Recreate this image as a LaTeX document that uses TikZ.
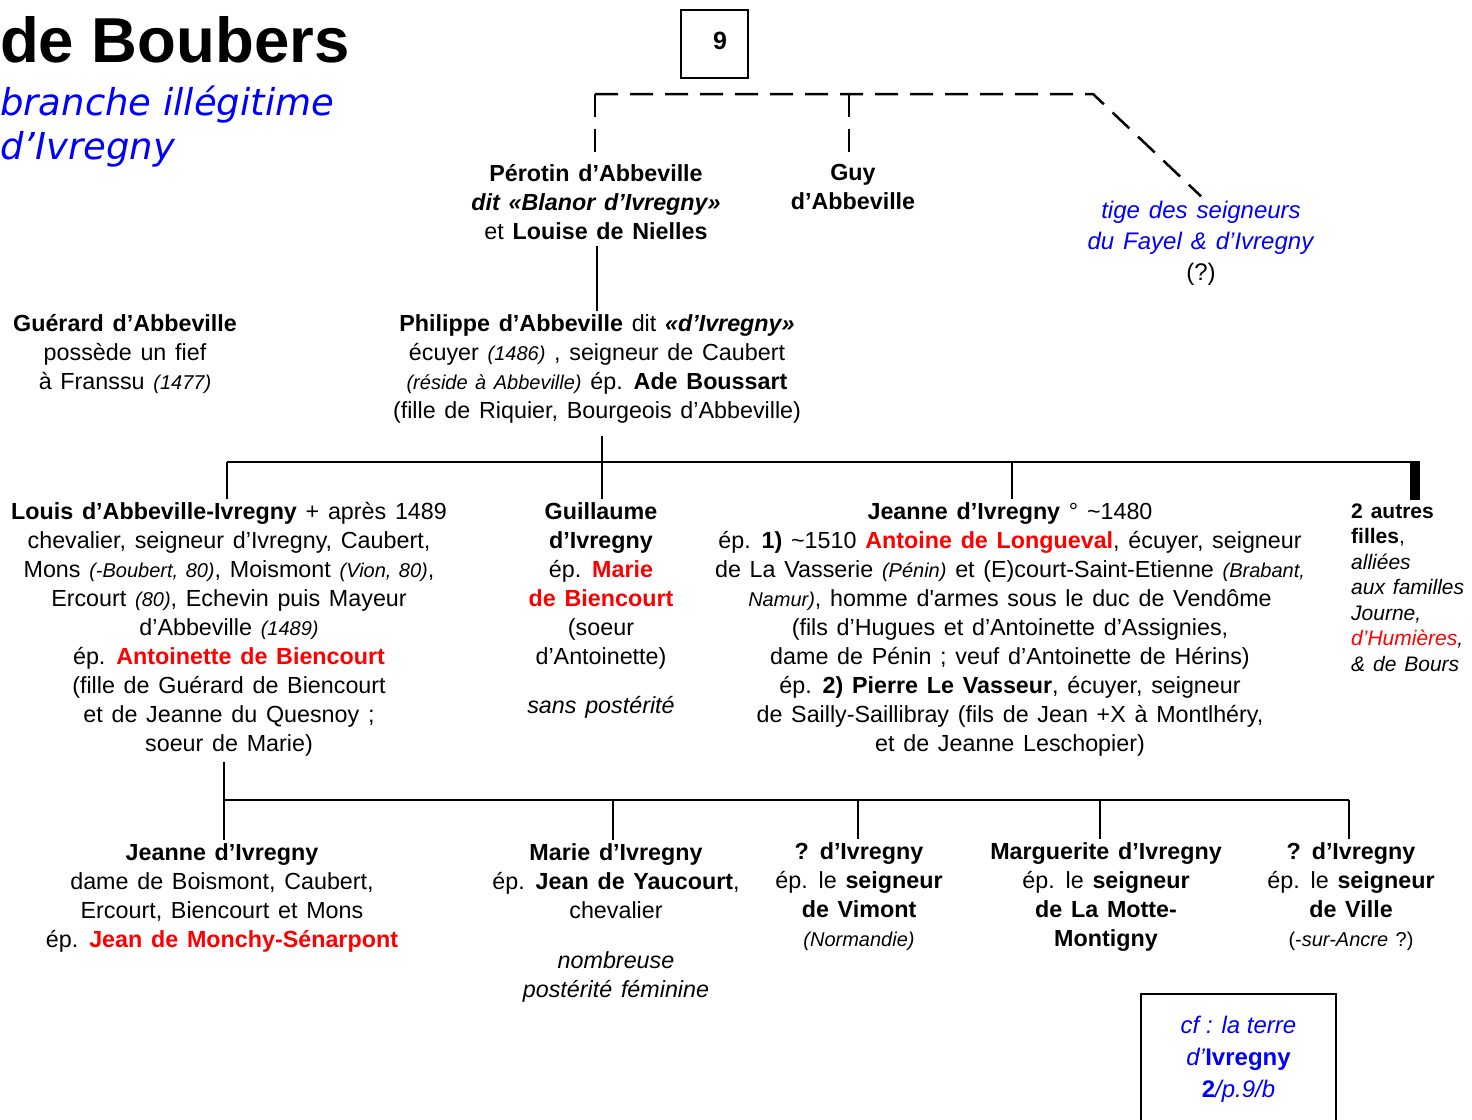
\documentclass[tikz,border=0pt]{standalone}
\usepackage{fontspec}
\setmainfont{Liberation Sans}[WordSpace=1.35]
\newfontfamily\plainsans{Liberation Sans}
\newfontfamily\dvs{DejaVu Sans}
\definecolor{rd}{RGB}{255,0,0}
\definecolor{bl}{RGB}{0,0,255}
\newcommand\sm{\fontsize{20}{29}\selectfont}
\newcommand\rb[1]{\textcolor{rd}{\textbf{#1}}}
\begin{document}
\begin{tikzpicture}[x=1pt,y=-1pt,
 blk/.style={inner sep=0pt, align=center, anchor=north, yshift=20.3pt, font=\fontsize{23.3}{29}\selectfont},
 conn/.style={line width=2.5pt},
 dashc/.style={line width=2.5pt, dash pattern=on 23pt off 12pt}]
\useasboundingbox (0,0) rectangle (1472,1119);

% titles
\node[inner sep=0pt, anchor=base west, font=\plainsans\fontsize{63.5}{70}\selectfont\bfseries] (title) at (0,62) {de Boubers};
\node[inner sep=0pt, anchor=north west, yshift=30.8pt, align=left, text=bl, font=\dvs\itshape\fontsize{37}{44}\selectfont] (sub) at (0,115) {\strut branche illégitime\\d’Ivregny};

% box 9
\node[draw, line width=1.5pt, inner sep=0pt, minimum width=67pt, minimum height=68pt, font=\fontsize{25}{29}\selectfont\bfseries] (box9) at (714.5,44) {\hspace*{11pt}9\rule[-6pt]{0pt}{6pt}};

% generation 1
\node[blk] (perotin) at (596,181) {\strut\textbf{Pérotin d’Abbeville}\\ \textbf{\textit{dit «Blanor d’Ivregny»}}\\ et \textbf{Louise de Nielles}};
\node[blk] (guy) at (853,180) {\strut\textbf{Guy}\\ \textbf{d’Abbeville}};
\node[blk, yshift=1.4pt, font=\fontsize{24}{31}\selectfont] (tige) at (1201,218) {\strut\textcolor{bl}{\textit{tige des seigneurs}}\\ \textcolor{bl}{\textit{du Fayel \& d’Ivregny}}\\ (?)};

% generation 2
\node[blk] (guerard) at (125,331) {\strut\textbf{Guérard d’Abbeville}\\ possède un fief\\ à Franssu \textit{\sm(1477)}};
\node[blk] (phil) at (597,331) {\strut\textbf{Philippe d’Abbeville} dit \textbf{\textit{«d’Ivregny»}}\\ écuyer \textit{\sm(1486)} , seigneur de Caubert\\ \textit{\sm(réside à Abbeville)} ép. \textbf{Ade Boussart}\\ (fille de Riquier, Bourgeois d’Abbeville)};

% generation 3
\node[blk] (louis) at (229,519) {\strut\textbf{Louis d’Abbeville-Ivregny} + après 1489\\ chevalier, seigneur d’Ivregny, Caubert,\\ Mons \textit{\sm(-Boubert, 80)}, Moismont \textit{\sm(Vion, 80)},\\ Ercourt \textit{\sm(80)}, Echevin puis Mayeur\\ d’Abbeville \textit{\sm(1489)}\\ ép. \rb{Antoinette de Biencourt}\\ (fille de Guérard de Biencourt\\ et de Jeanne du Quesnoy ;\\ soeur de Marie)};
\node[blk] (guil) at (601,519) {\strut\textbf{Guillaume}\\ \textbf{d’Ivregny}\\ ép. \rb{Marie}\\ \rb{de Biencourt}\\ (soeur\\ d’Antoinette)\\[20pt] \textit{sans postérité}};
\node[blk] (jeanne) at (1010,519) {\strut\textbf{Jeanne d’Ivregny} ° \textasciitilde1480\\ ép. \textbf{1)} \textasciitilde1510 \rb{Antoine de Longueval}, écuyer, seigneur\\ de La Vasserie \textit{\sm(Pénin)} et (E)court-Saint-Etienne \textit{\sm(Brabant,}\\ \textit{\sm Namur)}, homme d\textquotesingle armes sous le duc de Vendôme\\ (fils d’Hugues et d’Antoinette d’Assignies,\\ dame de Pénin ; veuf d’Antoinette de Hérins)\\ ép. \textbf{2) Pierre Le Vasseur}, écuyer, seigneur\\ de Sailly-Saillibray (fils de Jean +X à Montlhéry,\\ et de Jeanne Leschopier)};
\node[inner sep=0pt, align=left, anchor=north west, yshift=17.85pt, font=\fontsize{21}{25.5}\selectfont] (filles) at (1351,518) {\strut\textbf{2 autres}\\ \textbf{filles},\\ \textit{alliées}\\ \textit{aux familles}\\ \textit{Journe,}\\ \textcolor{rd}{\textit{d’Humières}}\textit{,}\\ \textit{\& de Bours}};

% generation 4
\node[blk] (bj) at (222,860) {\strut\textbf{Jeanne d’Ivregny}\\ dame de Boismont, Caubert,\\ Ercourt, Biencourt et Mons\\ ép. \rb{Jean de Monchy-Sénarpont}};
\node[blk] (marie) at (616,860) {\strut\textbf{Marie d’Ivregny}\\ ép. \textbf{Jean de Yaucourt},\\ chevalier\\[21pt] \textit{nombreuse}\\ \textit{postérité féminine}};
\node[blk] (vim) at (859,859) {\strut\textbf{? d’Ivregny}\\ ép. le \textbf{seigneur}\\ \textbf{de Vimont}\\ {\sm\itshape (Normandie)}};
\node[blk] (marg) at (1106,859) {\strut\textbf{Marguerite d’Ivregny}\\ ép. le \textbf{seigneur}\\ \textbf{de La Motte-}\\ \textbf{Montigny}};
\node[blk] (ville) at (1351,859) {\strut\textbf{? d’Ivregny}\\ ép. le \textbf{seigneur}\\ \textbf{de Ville}\\ {\sm (-\textit{sur-Ancre} ?)}};

% reference box
\node[draw, line width=2pt, inner sep=0pt, anchor=north, align=center, minimum width=195pt, minimum height=131pt, text=bl, font=\plainsans\fontsize{24}{32}\selectfont] (cf) at (1238.5,993) {\strut\textit{cf : la terre}\\ \textit{d’}\textbf{Ivregny}\\ \textbf{2}\textit{/p.9/b}\strut};

% dashed connectors
\coordinate (d1) at (595,94);
\coordinate (d2) at (849,94);
\coordinate (d3) at (1093,94);
\draw[dashc] (d1) -- (d3) -- (tige.north);
\draw[dashc] (d1) -- (d1 |- perotin.north);
\draw[dashc] (d2) -- (d2 |- guy.north);

% solid connectors
\coordinate (pp) at (597,246);
\draw[conn] (pp) -- (pp |- phil.north);
\coordinate (pj) at (602,436);
\draw[conn] (pj) -- (pj |- guil.north);
\coordinate (hl) at (227,462);
\coordinate (hr) at (1420,462);
\draw[conn] (hl) -- (hr);
\draw[conn] (hl) -- (hl |- louis.north);
\coordinate (jj) at (1012,462);
\draw[conn] (jj) -- (jj |- jeanne.north);
\coordinate (fj) at (1415,461);
\draw[line width=10pt] (fj) -- (fj |- filles.north);

\coordinate (lb) at (224,762);
\coordinate (b1) at (224,800);
\coordinate (b5) at (1349,800);
\draw[conn] (lb) -- (lb |- bj.north);
\draw[conn] (b1) -- (b5);
\coordinate (b2) at (613,800);
\coordinate (b3) at (858,800);
\coordinate (b4) at (1100,800);
\draw[conn] (b2) -- (b2 |- marie.north);
\draw[conn] (b3) -- (b3 |- vim.north);
\draw[conn] (b4) -- (b4 |- marg.north);
\draw[conn] (b5) -- (b5 |- ville.north);
\end{tikzpicture}
\end{document}
